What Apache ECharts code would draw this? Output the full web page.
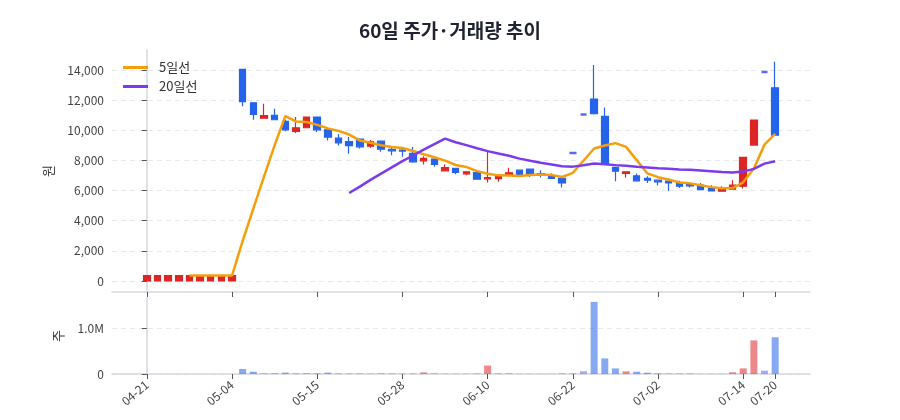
<!DOCTYPE html>
<html>
<head>
<meta charset="utf-8">
<script src="https://cdn.jsdelivr.net/npm/echarts@6/dist/echarts.min.js"></script>
<style>
  html, body { margin: 0; padding: 0; background: #ffffff; }
  #chart { width: 900px; height: 420px; }
</style>
</head>
<body>
<div id="chart"></div>
<script>
// ---- data ----
const tickIndex  = [0, 8, 16, 24, 32, 40, 48, 56, 59];
const tickLabels = ['04-21', '05-04', '05-15', '05-28', '06-10', '06-22', '07-02', '07-14', '07-20'];

const openP  = [0,0,0,0,0,0,0,0,0, 14050,11830,10800,10990,10590, 9930,10170,10880,10035, 9480, 9250, 9415, 8950, 9280, 8730, 8685, 8465, 7975, 8090, 7310, 7470, 7110, 7200, 6780, 6800, 7025, 7355, 7420, 7135, 6980, 6805, 8500,11050,12075,10925, 7535, 7135, 6980, 6805, 6690, 6625, 6510, 6405, 6360, 6140, 5960, 6095, 6290, 9020,13870,12825];
const closeP = [360,360,360,360,360,360,360,360,360, 11900,11060,10980,10700,10035,10170,10880,10035, 9550, 9170, 8980, 8905, 9240, 8750, 8640, 8620, 7910, 8135, 7735, 7530, 7200, 7245, 6760, 6870, 6950, 7180, 7070, 7070, 7025, 6805, 6510, 8500,11050,11100, 7800, 7290, 7245, 6650, 6690, 6580, 6510, 6290, 6315, 6070, 5980, 6140, 6360, 8200,10680,13870, 9680];
const lowP   = [0,0,0,0,0,0,0,0,0, 11600,10700,10800,10700, 9930, 9815,10130, 9880, 9330, 9000, 8450, 8800, 8840, 8570, 8350, 8240, 7840, 7735, 7575, 7310, 7090, 7020, 6750, 6540, 6580, 7000, 7060, 6910, 6870, 6800, 6205, 8500,11050,11050, 7780, 6625, 6845, 6580, 6510, 6360, 5980, 6180, 6205, 6050, 5980, 5960, 6090, 6140, 9000,13870, 9680];
const highP  = [360,360,360,360,360,360,360,360,360, 14050,11850,11770,11430,10700,10880,10920,10900,10050, 9750, 9560, 9450, 9350, 9300, 8860, 8800, 8900, 8285, 8100, 7735, 7480, 7260, 7210, 8570, 6970, 7510, 7370, 7440, 7355, 7135, 6820, 8500,11050,14330,11520, 7560, 7260, 7135, 6955, 6700, 6640, 6645, 6540, 6510, 6360, 6290, 6690, 8220,10700,13870,14550];

const volume = [0,0,0,0,0,0,0,0,0, 110000,50000,12000,15000,30000,12000,15000,15000,30000,12000,10000,10000,8000,12000,10000,8000,10000,35000,12000,5000,5000,5000,10000,184000,12000,12000,4000,4000,4000,4000,12000,15000,60000,1575000,340000,122000,59000,50000,28000,14000,10000,10000,10000,4000,4000,4000,37000,122000,734000,74000,803000];

const ma5  = [null,null,null,null,360,360,360,360,360,2670,4810,6930,9000,10940,10590,10550,10360,10130,9960,9720,9330,9170,9010,8900,8830,8630,8410,8210,7990,7700,7570,7290,7120,7010,7000,6970,7030,7060,7030,6900,7180,7980,8790,8990,9150,8900,8020,7140,6890,6740,6540,6480,6350,6230,6160,6170,6550,7470,9050,9760];
const ma20 = [null,null,null,null,null,null,null,null,null,null,null,null,null,null,null,null,null,null,null,5840,6260,6710,7130,7540,7950,8330,8720,9090,9450,9210,9020,8810,8620,8460,8310,8120,7980,7850,7730,7610,7590,7680,7800,7750,7690,7650,7580,7530,7480,7450,7400,7380,7340,7290,7240,7200,7260,7440,7790,7950];

const priceTicks  = [0, 2000, 4000, 6000, 8000, 10000, 12000, 14000];
const volumeTicks = [0, 1000000];

// ---- styling ----
const UP = '#dc2626', DOWN = '#2563eb', FLAT = '#6366f1';
const UP_V = 'rgba(220,38,38,0.55)', DOWN_V = 'rgba(37,99,235,0.55)', FLAT_V = 'rgba(99,102,241,0.55)';
const FONT = '"Noto Sans CJK KR", "Noto Sans", sans-serif';
const AXIS_LINE = '#d3d7de';
const TICK = '#555';
const X_MIN = -3.27, X_MAX = 62.27;

const candleData = openP.map((o, i) => {
  const item = { value: [i, o, closeP[i], lowP[i], highP[i]] };
  if (o === closeP[i]) item.itemStyle = { borderWidth: 2.5 };
  return item;
});
const volData = volume.map((v, i) => ({
  value: [i, v],
  itemStyle: { color: closeP[i] > openP[i] ? UP_V : (closeP[i] < openP[i] ? DOWN_V : FLAT_V) }
}));
const ma5Data  = ma5.map((v, i) => [i, v]).filter(d => d[1] !== null);
const ma20Data = ma20.map((v, i) => [i, v]).filter(d => d[1] !== null);

const labelFor = v => {
  const k = tickIndex.indexOf(Math.round(v));
  return k >= 0 ? tickLabels[k] : '';
};

const chart = echarts.init(document.getElementById('chart'), null, { renderer: 'canvas' });
chart.setOption({
  animation: false,
  backgroundColor: '#ffffff',
  textStyle: { fontFamily: FONT },
  title: {
    text: '60일 주가·거래량 추이',
    left: 'center', top: 21, padding: 0,
    textStyle: { fontFamily: FONT, fontSize: 19, fontWeight: 'bold', color: '#1f2330' }
  },
  legend: {
    data: ['5일선', '20일선'],
    orient: 'vertical',
    left: 118, top: 56,
    itemWidth: 25, itemHeight: 3, itemGap: 6,
    icon: 'rect',
    textStyle: { fontFamily: FONT, fontSize: 13, color: '#333', padding: [0, 0, 0, 6] }
  },
  grid: [
    { left: 112, right: 90, top: 50, height: 242 },
    { left: 112, right: 90, top: 298, height: 76 }
  ],
  xAxis: [
    {
      type: 'value', gridIndex: 0, min: X_MIN, max: X_MAX,
      axisLine: { show: true, onZero: false, lineStyle: { color: AXIS_LINE, width: 1.5 } },
      axisTick: { show: true, customValues: tickIndex, length: 5, lineStyle: { color: TICK } },
      axisLabel: { show: false, customValues: tickIndex },
      splitLine: { show: false }
    },
    {
      type: 'value', gridIndex: 1, min: X_MIN, max: X_MAX,
      axisLine: { show: true, onZero: false, lineStyle: { color: AXIS_LINE, width: 1.5 } },
      axisTick: { show: true, customValues: tickIndex, length: 5, lineStyle: { color: TICK } },
      axisLabel: {
        show: true, customValues: tickIndex, rotate: 40, margin: 9,
        fontFamily: FONT, fontSize: 12, color: '#444', formatter: labelFor
      },
      splitLine: { show: false }
    }
  ],
  yAxis: [
    {
      type: 'value', gridIndex: 0, min: -730, max: 15330,
      name: '원', nameLocation: 'middle', nameGap: 57, nameRotate: 90,
      nameTextStyle: { fontFamily: FONT, fontSize: 13, color: '#333' },
      axisLine: { show: true, lineStyle: { color: AXIS_LINE, width: 1.5 } },
      axisTick: { show: true, customValues: priceTicks, length: 5, lineStyle: { color: TICK } },
      axisLabel: {
        customValues: priceTicks, margin: 8, fontFamily: FONT, fontSize: 12, color: '#444',
        formatter: v => Number(v).toLocaleString('en-US')
      },
      splitLine: { show: true, lineStyle: { color: '#e6e8ec', type: [5, 4], width: 1 } }
    },
    {
      type: 'value', gridIndex: 1, min: 0, max: 1660000,
      name: '주', nameLocation: 'middle', nameGap: 47, nameRotate: 90,
      nameTextStyle: { fontFamily: FONT, fontSize: 13, color: '#333' },
      axisLine: { show: true, lineStyle: { color: AXIS_LINE, width: 1.5 } },
      axisTick: { show: true, customValues: volumeTicks, length: 5, lineStyle: { color: TICK } },
      axisLabel: {
        customValues: volumeTicks, margin: 8, fontFamily: FONT, fontSize: 12, color: '#444',
        formatter: v => v === 0 ? '0' : (v / 1e6).toFixed(1) + 'M'
      },
      splitLine: { show: true, lineStyle: { color: '#e6e8ec', type: [5, 4], width: 1 } }
    }
  ],
  series: [
    {
      type: 'candlestick', name: '주가', xAxisIndex: 0, yAxisIndex: 0,
      encode: { x: 0, y: [1, 2, 3, 4] },
      barWidth: 7,
      itemStyle: {
        color: UP, color0: DOWN, borderColor: UP, borderColor0: DOWN,
        borderColorDoji: FLAT, borderWidth: 1.2
      },
      data: candleData
    },
    {
      type: 'line', name: '5일선', xAxisIndex: 0, yAxisIndex: 0,
      data: ma5Data, showSymbol: false, symbol: 'none',
      lineStyle: { color: '#f59e0b', width: 2.5 }, itemStyle: { color: '#f59e0b' }, z: 5
    },
    {
      type: 'line', name: '20일선', xAxisIndex: 0, yAxisIndex: 0,
      data: ma20Data, showSymbol: false, symbol: 'none',
      lineStyle: { color: '#7c3aed', width: 2.5 }, itemStyle: { color: '#7c3aed' }, z: 5
    },
    {
      type: 'bar', name: '거래량', xAxisIndex: 1, yAxisIndex: 1,
      barWidth: 7, data: volData
    }
  ]
});
</script>
</body>
</html>
